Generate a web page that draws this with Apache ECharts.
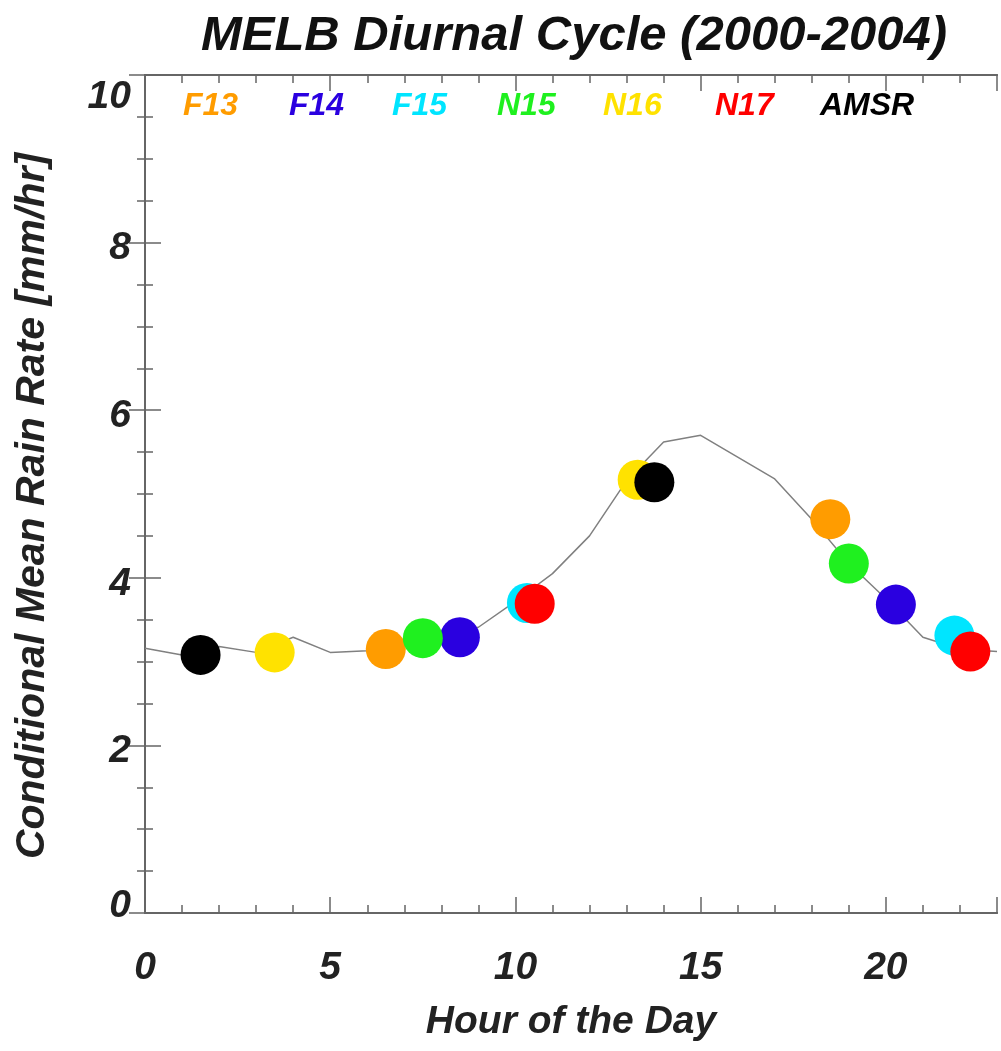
<!DOCTYPE html>
<html>
<head>
<meta charset="utf-8">
<script src="https://cdn.jsdelivr.net/npm/echarts@6/dist/echarts.min.js"></script>
<style>html,body{margin:0;padding:0;background:#fff}#chart{width:1001px;height:1051px}</style>
</head>
<body>
<div id="chart"></div>
<script>
// ---- data ----
const hours = [0,1,2,3,4,5,6,7,8,9,10,11,12,13,14,15,16,17,18,19,20,21,22,23];
const meanRate = [3.16,3.08,3.18,3.11,3.29,3.11,3.13,3.22,3.28,3.41,3.72,4.05,4.50,5.16,5.62,5.70,5.44,5.18,4.70,4.17,3.75,3.29,3.15,3.12];
const satNames = ['F13','F14','F15','N15','N16','N17','AMSR'];
const F13 = [[6.5,3.15],[18.5,4.70]];
const F14 = [[8.5,3.29],[20.27,3.68]];
const F15 = [[10.31,3.70],[21.85,3.31]];
const N15 = [[7.5,3.28],[19.0,4.17]];
const N16 = [[3.5,3.11],[13.3,5.17]];
const N17 = [[10.52,3.69],[22.28,3.12]];
const AMSR = [[1.5,3.08],[13.75,5.14]];
const xLabelValues = [0,5,10,15,20];

// ---- style ----
const satData = [F13,F14,F15,N15,N16,N17,AMSR];
const satColors = ['#FF9C00','#2A00E0','#00E5FF','#1FF01F','#FFE200','#FF0000','#000000'];
const legendLeft = [178,284,387,492,598,710,815];
const FONT = 'Liberation Sans';
const textBase = {fontFamily: FONT, fontWeight: 'bold', fontStyle: 'italic', color: '#222'};
const axisColor = '#666';
const LABEL_SIZE = 39;

const chart = echarts.init(document.getElementById('chart'), null, {renderer: 'canvas'});

const grid = {left: 145, right: 4, top: 75, bottom: 138, outerBoundsMode: 'none', containLabel: false};

function xAxisDef(pos, step, tickLen, showLabels, showName) {
  return {
    type: 'value', position: pos, min: 0, max: 23, interval: step,
    axisLine: {show: true, lineStyle: {color: axisColor, width: 2}},
    axisTick: {show: true, inside: true, length: tickLen, lineStyle: {color: axisColor, width: 1.5}},
    axisLabel: showLabels ? Object.assign({
      show: true, fontSize: LABEL_SIZE, margin: 36,
      formatter: v => (xLabelValues.indexOf(v) >= 0 ? String(v) : '')
    }, textBase) : {show: false},
    splitLine: {show: false},
    name: showName ? 'Hour of the Day' : '',
    nameLocation: 'middle', nameGap: 90, nameMoveOverlap: false,
    nameTextStyle: Object.assign({fontSize: 39}, textBase)
  };
}

function richTok(pad) {
  return Object.assign({fontSize: LABEL_SIZE, padding: pad}, textBase);
}

function yAxisDef(pos, showLabels, showName) {
  return {
    type: 'value', position: pos, min: 0, max: 10, interval: 2,
    axisLine: {show: true, lineStyle: {color: axisColor, width: 2}},
    axisTick: {show: true, inside: true, length: 16, lineStyle: {color: axisColor, width: 1.5}},
    minorTick: {show: true, splitNumber: 4, length: 8, lineStyle: {color: axisColor, width: 1.5}},
    axisLabel: showLabels ? Object.assign({
      show: true, fontSize: LABEL_SIZE, margin: 14,
      formatter: v => (v === 10 ? '{hi|' + v + '}' : v === 0 ? '{lo|' + v + '}' : '{md|' + v + '}'),
      rich: {hi: richTok([44,0,0,0]), lo: richTok([0,0,14,0]), md: richTok([12,0,0,0])}
    }, textBase) : {show: false},
    splitLine: {show: false},
    name: showName ? 'Conditional Mean Rain Rate [mm/hr]' : '',
    nameLocation: 'middle', nameGap: 92, nameRotate: 90, nameMoveOverlap: false,
    nameTextStyle: Object.assign({fontSize: 41, padding: [0, 24, 0, 0]}, textBase)
  };
}

const series = [{
  name: 'Mean',
  type: 'line',
  data: hours.map((h, i) => [h, meanRate[i]]),
  showSymbol: false,
  symbol: 'none',
  lineStyle: {color: '#808080', width: 1.5},
  z: 1,
  silent: true
}];
satNames.forEach((n, i) => {
  series.push({
    name: n, type: 'scatter', data: satData[i],
    symbol: 'circle', symbolSize: 40,
    itemStyle: {color: satColors[i], opacity: 1},
    z: 2
  });
});

const legends = satNames.map((n, i) => ({
  left: legendLeft[i], top: 90, padding: 0,
  icon: 'none', itemWidth: 0, itemHeight: 30, itemGap: 0,
  data: [{name: n, textStyle: Object.assign({}, textBase, {color: satColors[i], fontSize: 32})}],
  selectedMode: true
}));

chart.setOption({
  animation: false,
  backgroundColor: '#fff',
  title: {
    text: 'MELB Diurnal Cycle (2000-2004)',
    left: 569, top: 7, textAlign: 'center',
    textStyle: Object.assign({fontSize: 49}, textBase, {color: '#111'})
  },
  legend: legends,
  grid: grid,
  xAxis: [
    xAxisDef('bottom', 1, 8, true, true),
    xAxisDef('bottom', 5, 16, false, false),
    xAxisDef('top', 1, 8, false, false),
    xAxisDef('top', 5, 16, false, false)
  ],
  yAxis: [
    yAxisDef('left', true, true),
    yAxisDef('right', false, false)
  ],
  series: series
});
</script>
</body>
</html>
